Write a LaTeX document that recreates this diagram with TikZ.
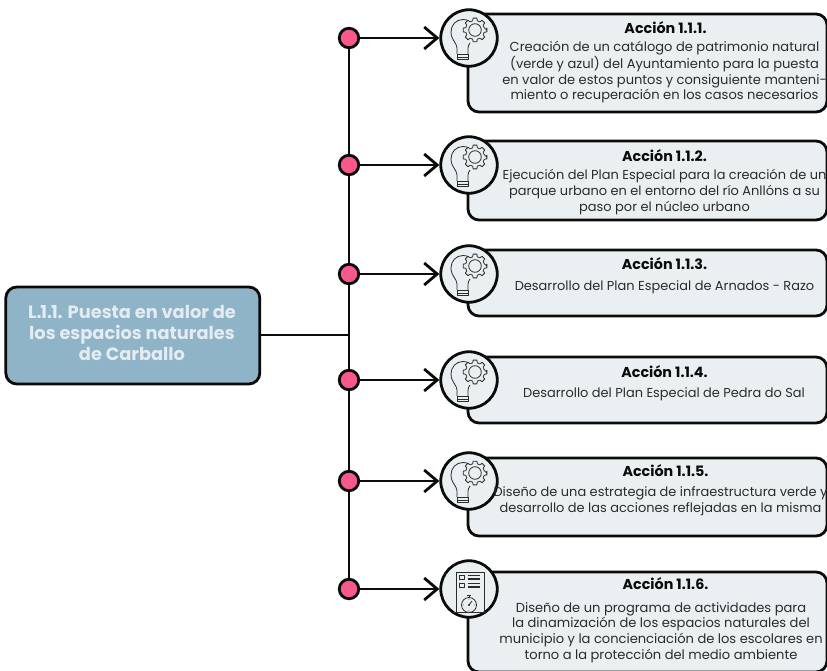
\documentclass[tikz,border=0pt]{standalone}
\usepackage{fontspec}
\setmainfont{Poppins}
\usetikzlibrary{arrows.meta,calc}
\definecolor{boxfill}{HTML}{EAEFF1}
\definecolor{leftfill}{HTML}{8FB3C7}
\definecolor{lefttext}{HTML}{E4ECF1}
\definecolor{dotfill}{HTML}{F9588B}
\definecolor{ink}{HTML}{0B0B0B}
\definecolor{txt}{HTML}{2B2B2B}
\tikzset{
  x=1pt,y=-1pt,
  line/.style={draw=ink,line width=2.8pt},
  actbox/.style={draw=ink,line width=2.8pt,fill=boxfill,rounded corners=11pt},
  leftbox/.style={draw=ink,line width=2.8pt,fill=leftfill,rounded corners=11pt,minimum width=254pt,minimum height=97pt,inner sep=0pt},
  leftlabel/.style={inner sep=0pt,align=center,text=lefttext,font=\fontsize{17.8pt}{21pt}\selectfont\bfseries},
  dot/.style={circle,draw=ink,line width=2.8pt,fill=dotfill,minimum size=19.5pt,inner sep=0pt},
  iconc/.style={circle,draw=ink,line width=2.8pt,fill=boxfill,minimum size=56.5pt,inner sep=0pt},
  acttext/.style={align=center,text=txt,inner sep=0pt,font=\fontsize{12.95pt}{15.6pt}\selectfont},
  acttextb/.style={acttext,font=\fontsize{13.05pt}{15.6pt}\selectfont},
  acttitle/.style={text=ink,inner sep=0pt,font=\fontsize{14.3pt}{16pt}\selectfont\bfseries},
  arr/.style={line,-{Straight Barb[length=13pt,width=22pt,line width=2.8pt]}},
  ic/.style={draw=txt,line width=.8pt,line join=round}
}
\newcommand{\bulbicon}[1]{%
  \begin{scope}[shift={(#1)}]
    \draw[ic] (-12,16) -- (-12,10) .. controls (-12,5) and (-18,2) .. (-18,-6)
      .. controls (-18,-13) and (-13,-18.5) .. (-6,-18.5) .. controls (-4,-18.5) and (-2,-18) .. (-1,-17.5);
    \draw[ic] (-1,16) -- (-1,10) .. controls (-1,8) and (0,6.5) .. (1,5);
    \draw[ic] (-12,16) -- (-1,16) (-12,19) -- (-1,19) (-12,16) -- (-12,21) -- (-1,21) -- (-1,16);
    \draw[ic,fill=boxfill] (6,-8) ++(0:11.8) \foreach \a in {0,45,...,315} {
        -- ++(0,0) -- ($(6,-8)+(\a-9:12)$) -- ($(6,-8)+(\a+9:12)$) -- ($(6,-8)+(\a+14:9.5)$) -- ($(6,-8)+(\a+31:9.5)$)
      } -- cycle;
    \draw[ic] (6,-8) circle (6.3);
  \end{scope}}
\newcommand{\planicon}[1]{%
  \begin{scope}[shift={(#1)}]
    \draw[ic] (-16,23) -- (17,23) (-13,23) -- (-13,-17) -- (15,-17) -- (15,23);
    \draw[ic] (-10,-14) rectangle (-5,-9.5) (-10,-6) rectangle (-5,-1.5);
    \draw[ic,line width=1.1pt] (-1.5,-13.5) -- (11,-13.5) (-1.5,-10) -- (11,-10) (-1.5,-5.5) -- (11,-5.5) (-1.5,-2) -- (11,-2);
    \draw[ic] (0,16) circle (7.5);
    \draw[ic] (0,8.5) -- (0,6) (-2,6) -- (2,6);
    \draw[ic] (0,16) -- (3,12);
    \fill[txt] (0,16) circle (1.2);
    \foreach \a in {0,90,180,270} \fill[txt] ($(0,16)+(\a:5.5)$) circle (.4);
  \end{scope}}
\begin{document}
\begin{tikzpicture}
\useasboundingbox (0,0) rectangle (827,671);
\begin{scope}
\clip (0,0) rectangle (827,671);
\draw[actbox] (468,14) rectangle (827,112);
\draw[actbox] (468,141) rectangle (827,220);
\draw[actbox] (468,250) rectangle (827,316);
\draw[actbox] (468,357) rectangle (827,423);
\draw[actbox] (468,458) rectangle (827,536);
\draw[actbox] (468,572) rectangle (827,672);
\end{scope}
\node[leftbox] (root) at (132.8,335.5) {};
\node[leftlabel] (rootlabel) at (132,333) {\textbf{L.\kern-1.2pt1.\kern-1.2pt1.} Puesta en valor de\\los espacios naturales\\de Carballo};
\node[dot] (d1) at (349,38) {};
\node[dot] (d2) at (349,165) {};
\node[dot] (d3) at (349,274) {};
\node[dot] (d4) at (349,380) {};
\node[dot] (d5) at (349,481) {};
\node[dot] (d6) at (349,589) {};
\coordinate (j) at (349,335);
\draw[line] (d1) -- (d2) -- (d3) -- (d4) -- (d5) -- (d6);
\draw[line] (root.east |- j) -- (j);
\node[iconc] (c1) at (469,38) {};
\node[iconc] (c2) at (469,165) {};
\node[iconc] (c3) at (469,274) {};
\node[iconc] (c4) at (469,380) {};
\node[iconc] (c5) at (469,481) {};
\node[iconc] (c6) at (469,589) {};
\foreach \i in {1,...,6} \draw[arr] (d\i) -- (c\i);
\bulbicon{c1} \bulbicon{c2} \bulbicon{c3} \bulbicon{c4} \bulbicon{c5} \planicon{c6}
\node[acttitle] (t1) at (665.5,28) {Acción 1.1.1.};
\node[acttextb] (b1) at (664.5,72.5) {Creación de un catálogo de patrimonio natural\\(verde y azul) del Ayuntamiento para la puesta\\en valor de estos puntos y consiguiente manteni-\\miento o recuperación en los casos necesarios};
\node[acttitle] (t2) at (664.5,156) {Acción 1.1.2.};
\node[acttext] (b2) at (664.5,192) {Ejecución del Plan Especial para la creación de un\\parque urbano en el entorno del río Anllóns a su\\paso por el núcleo urbano};
\node[acttitle] (t3) at (664.5,264) {Acción 1.1.3.};
\node[acttext] (b3) at (664.5,287.5) {Desarrollo del Plan Especial de Arnados - Razo};
\node[acttitle] (t4) at (664.5,372) {Acción 1.1.4.};
\node[acttext] (b4) at (664,394) {Desarrollo del Plan Especial de Pedra do Sal};
\node[acttitle] (t5) at (665.5,471) {Acción 1.1.5.};
\node[acttext] (b5) at (660.5,501) {Diseño de una estrategia de infraestructura verde y\\desarrollo de las acciones reflejadas en la misma};
\node[acttitle] (t6) at (665.5,584) {Acción 1.1.6.};
\node[acttextb] (b6) at (661,632.5) {Diseño de un programa de actividades para\\la dinamización de los espacios naturales del\\municipio y la concienciación de los escolares en\\torno a la protección del medio ambiente};
\end{tikzpicture}
\end{document}
